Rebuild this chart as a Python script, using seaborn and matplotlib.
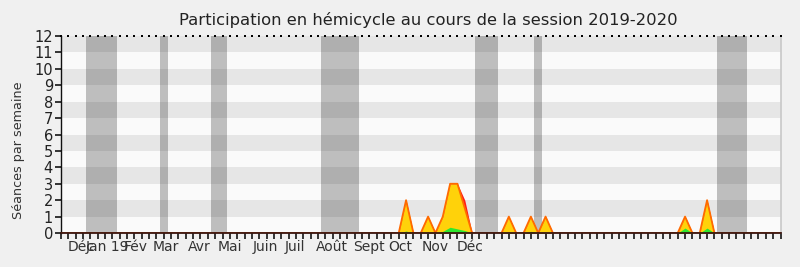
import numpy as np
import pandas as pd
import matplotlib
matplotlib.use("Agg")
import matplotlib.pyplot as plt
import seaborn as sns

# ---- data ----
n_weeks = 98
active_weeks = [47, 50, 52, 53, 54, 55, 61, 64, 66, 85, 88]
presence_total = [2, 1, 1, 3, 3, 2, 1, 1, 1, 1, 2]          # red (top layer)
presence_hemi = [2, 1, 1, 3, 3, 1.5, 1, 1, 1, 1, 2]         # yellow layer
interventions = [0.12, 0.05, 0.1, 0.35, 0.25, 0.15, 0.05, 0.1, 0.05, 0.3, 0.3]  # green

vacation_start = [3.4, 13.5, 20.4, 35.4, 56.4, 64.4, 89.3]
vacation_end = [7.6, 14.6, 22.6, 40.6, 59.5, 65.5, 93.4]

month_labels = ["Déc", "Jan 19", "Fév", "Mar", "Avr", "Mai", "Juin", "Juil",
                "Août", "Sept", "Oct", "Nov", "Déc"]
month_pos = [2.8, 6.26, 10.2, 14.23, 18.86, 22.94, 27.85, 31.86,
             36.83, 41.94, 46.23, 51.03, 55.76]

title = "Participation en hémicycle au cours de la session 2019-2020"
ylabel = "Séances par semaine"

# ---- build frame ----
df = pd.DataFrame({"week": active_weeks, "total": presence_total,
                   "hemi": presence_hemi, "inter": interventions})
weeks_all = pd.Index(np.arange(n_weeks + 1), name="week")
full = df.set_index("week").reindex(weeks_all, fill_value=0).reset_index()

sns.set_theme(style="ticks")
plt.rcParams["font.family"] = ["DejaVu Sans"]

W, H = 800, 267
fig = plt.figure(figsize=(8, 2.67), dpi=100)
fig.patch.set_facecolor("#f0f0f0")

left, right, top, bottom = 61, 780.5, 36, 233
ax = fig.add_axes([left / W, 1 - bottom / H, (right - left) / W, (bottom - top) / H])
ax.set_facecolor("#fafafa")

for k in range(1, 12, 2):
    ax.axhspan(k, k + 1, color="#e6e6e6", lw=0, zorder=0)
for s, e in zip(vacation_start, vacation_end):
    ax.axvspan(s, e, color="black", alpha=0.24, lw=0, zorder=1)

x = full["week"].to_numpy()
ax.fill_between(x, 0, full["total"], color="#ff1a1a", lw=0, zorder=2)
ax.fill_between(x, 0, full["hemi"], color="#ffd20a", lw=0, zorder=3)
ax.fill_between(x, 0, full["inter"], color="#2ee82e", lw=0, zorder=4)
sns.lineplot(data=full, x="week", y="hemi", ax=ax, color="#ff6a00",
             linewidth=1.3, zorder=5)

# top dotted row at the 12 line
ax.scatter(x, np.full(len(x), 12.0), s=1.2, marker="s", color="black",
           linewidths=0, clip_on=False, zorder=7)

ax.set_xlim(0, n_weeks)
ax.set_ylim(0, 12)

ax.spines["top"].set_visible(False)
ax.spines["right"].set_color("#c8c8c8")
ax.spines["right"].set_linewidth(1.2)
ax.spines["left"].set_color("#111111")
ax.spines["left"].set_linewidth(1)
ax.spines["bottom"].set_color("#3a1510")
ax.spines["bottom"].set_linewidth(1.3)
ax.spines["bottom"].set_zorder(6)

# weekly ticks as real axis ticks, month names on a twin axis
ax.set_xticks(x)
ax.tick_params(axis="x", which="major", bottom=True, top=False, direction="out",
               length=4, width=1.1, color="#000000", labelbottom=False)
yt = np.arange(0, 13)
ax.set_yticks(yt)
ax.tick_params(axis="y", which="major", left=True, right=False, direction="out",
               length=4.3, width=1.1, color="#000000", pad=1.5,
               labelsize=10.5, labelcolor="#222222")
ax.set_xlabel("")
ax.set_ylabel("")

lab = ax.twiny()
lab.set_xlim(0, n_weeks)
lab.xaxis.set_ticks_position("bottom")
lab.xaxis.set_label_position("bottom")
lab.set_xticks(month_pos)
lab.set_xticklabels(month_labels)
lab.tick_params(axis="x", length=0, pad=5, labelsize=10, labelcolor="#333333",
                bottom=True, top=False, labelbottom=True, labeltop=False)
for sp in lab.spines.values():
    sp.set_visible(False)
lab.patch.set_visible(False)

fig.text(18.5 / W, 1 - 150 / H, ylabel, rotation=90, ha="center",
         va="center", fontsize=9.2, color="#333333")
fig.text(428 / W, 1 - 20 / H, title, ha="center", va="center",
         fontsize=11.8, color="#222222")

fig.savefig("out.png", dpi=100, facecolor=fig.get_facecolor())
